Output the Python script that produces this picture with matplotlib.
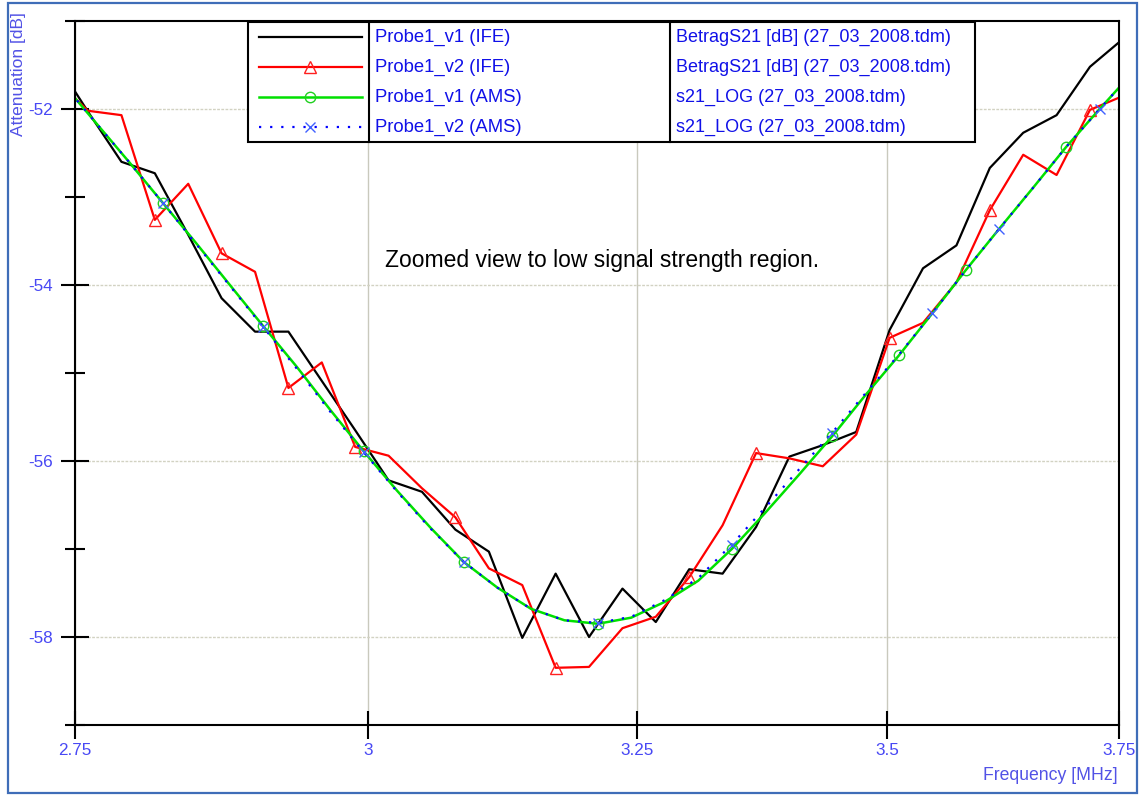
import matplotlib
matplotlib.use("Agg")
import matplotlib.pyplot as plt
from matplotlib.lines import Line2D
from matplotlib.patches import Rectangle
from matplotlib.ticker import FixedLocator, NullLocator, FixedFormatter
from matplotlib.transforms import Affine2D

plt.rcParams['font.family'] = ['Liberation Sans', 'DejaVu Sans']
plt.rcParams['axes.unicode_minus'] = False

# measured sweep (IFE), frequency in MHz, attenuation in dB
f_ife = [2.7334, 2.7606, 2.7882, 2.8160, 2.8441, 2.8724, 2.9011, 2.9300, 2.9592,
         2.9887, 3.0185, 3.0486, 3.0790, 3.1098, 3.1408, 3.1721, 3.2037, 3.2357,
         3.2679, 3.3005, 3.3334, 3.3667, 3.4002, 3.4341, 3.4684, 3.5030, 3.5379,
         3.5732, 3.6088, 3.6448, 3.6811, 3.7178, 3.7549]
probe1_v1_ife = [-51.44, -52.03, -52.60, -52.73, -53.43, -54.15, -54.53, -54.53, -55.09,
                 -55.65, -56.22, -56.35, -56.78, -57.03, -58.01, -57.28, -58.00, -57.45,
                 -57.83, -57.23, -57.28, -56.75, -55.95, -55.82, -55.67, -54.51, -53.81,
                 -53.55, -52.67, -52.27, -52.07, -51.52, -51.20]
probe1_v2_ife = [-51.65, -52.02, -52.07, -53.26, -52.85, -53.64, -53.85, -55.17, -54.88,
                 -55.84, -55.94, -56.31, -56.64, -57.22, -57.41, -58.35, -58.34, -57.90,
                 -57.77, -57.32, -56.73, -55.91, -55.97, -56.06, -55.70, -54.60, -54.43,
                 -53.97, -53.15, -52.52, -52.75, -52.01, -51.85]

# simulated sweep (AMS)
f_ams = [2.7399, 2.7673, 2.7950, 2.8229, 2.8511, 2.8795, 2.9083, 2.9373, 2.9667,
         2.9963, 3.0263, 3.0565, 3.0869, 3.1178, 3.1490, 3.1804, 3.2122, 3.2442,
         3.2767, 3.3094, 3.3425, 3.3758, 3.4096, 3.4436, 3.4780, 3.5127, 3.5478,
         3.5832, 3.6190, 3.6551, 3.6917, 3.7285, 3.7658]
probe1_v1_ams = [-51.71, -52.16, -52.61, -53.07, -53.53, -54.00, -54.47, -54.93, -55.42,
                 -55.89, -56.34, -56.76, -57.15, -57.44, -57.68, -57.81, -57.85, -57.78,
                 -57.60, -57.36, -57.00, -56.59, -56.16, -55.72, -55.25, -54.80, -54.32,
                 -53.83, -53.36, -52.90, -52.43, -52.00, -51.58]
probe1_v2_ams = [-51.71, -52.16, -52.61, -53.07, -53.54, -54.01, -54.48, -54.95, -55.44,
                 -55.90, -56.35, -56.77, -57.15, -57.44, -57.68, -57.81, -57.84, -57.77,
                 -57.58, -57.33, -56.95, -56.53, -56.10, -55.68, -55.23, -54.79, -54.32,
                 -53.83, -53.36, -52.90, -52.43, -52.00, -51.58]

tri_marks = [3, 5, 7, 9, 12, 15, 19, 21, 25, 28, 31]
circ_marks = [3, 6, 9, 12, 16, 20, 23, 25, 27, 30]
x_marks = [3, 6, 9, 12, 16, 20, 23, 26, 28, 31]

x_ticks = [2.75, 3.0, 3.25, 3.5, 3.75]
x_labels = ['2.75', '3', '3.25', '3.5', '3.75']
y_major = [-58, -56, -54, -52]
y_minor = [-59, -57, -55, -53, -51]

series_names = ['Probe1_v1 (IFE)', 'Probe1_v2 (IFE)', 'Probe1_v1 (AMS)', 'Probe1_v2 (AMS)']
series_files = ['BetragS21 [dB] (27_03_2008.tdm)', 'BetragS21 [dB] (27_03_2008.tdm)',
                's21_LOG (27_03_2008.tdm)', 's21_LOG (27_03_2008.tdm)']

W, H = 1142, 796
fig = plt.figure(figsize=(W / 100, H / 100), dpi=100)
fig.patch.set_facecolor('white')
# pixel coordinates measured from the top-left corner
tpx = Affine2D().scale(1.0 / W, -1.0 / H).translate(0, 1) + fig.transFigure

ax = fig.add_axes([75 / W, 1 - 725 / H, (1119 - 75) / W, (725 - 21) / H])
ax.set_xscale('log')
ax.set_xlim(2.75, 3.75)
ax.set_ylim(-59, -51)

tick_blue = '#4848f4'
ax.xaxis.set_major_locator(FixedLocator(x_ticks))
ax.xaxis.set_major_formatter(FixedFormatter(x_labels))
ax.xaxis.set_minor_locator(NullLocator())
ax.yaxis.set_major_locator(FixedLocator(y_major))
ax.yaxis.set_minor_locator(FixedLocator(y_minor))
ax.tick_params(axis='both', which='major', direction='inout', length=19.5, width=1.5,
               labelsize=12.3, labelcolor=tick_blue)
ax.tick_params(axis='y', which='major', pad=6)
ax.tick_params(axis='x', which='major', pad=3.5)
ax.tick_params(axis='y', which='minor', direction='inout', length=14, width=1.5)
for s in ax.spines.values():
    s.set_linewidth(1.5)
    s.set_color('black')

ax.grid(axis='x', which='major', color='#c9c9bd', lw=1.0, linestyle='-')
ax.grid(axis='y', which='major', color='#d2d2c2', lw=1.0, linestyle=(0, (2, 1)))
ax.set_axisbelow(True)

dots = (0, (1, 4))
l1, = ax.plot(f_ife, probe1_v1_ife, color='black', lw=1.6)
l2, = ax.plot(f_ife, probe1_v2_ife, color='#ff0000', lw=1.6, marker='^', ms=8.5,
              mfc='none', mec='#ff2020', mew=1.0, markevery=tri_marks)
l3, = ax.plot(f_ams, probe1_v1_ams, color='#00e000', lw=1.8, marker='o', ms=7.5,
              mfc='none', mec='#20d020', mew=1.0, markevery=circ_marks)
l4, = ax.plot(f_ams, probe1_v2_ams, color='#0000ff', lw=1.6, linestyle=dots,
              marker='x', ms=7.5, mec='#4060ff', mew=1.0, markevery=x_marks)

# legend table across the top of the plot
leg_left, leg_right, leg_top, leg_bot = 248, 975, 22, 142
fig.add_artist(Rectangle((leg_left, leg_top), leg_right - leg_left, leg_bot - leg_top,
                         transform=tpx, facecolor='white', edgecolor='black', lw=1.5, zorder=5))
for xd in (369, 670):
    fig.add_artist(Line2D([xd, xd], [leg_top, leg_bot], transform=tpx, color='black',
                          lw=1.5, zorder=6))
styles = ['-', '-', '-', dots]
for i, (line, ls, name, src) in enumerate(zip([l1, l2, l3, l4], styles, series_names, series_files)):
    yr = 37 + 30 * i
    fig.add_artist(Line2D([259, 310, 362], [yr, yr, yr], transform=tpx,
                          color=line.get_color(), lw=line.get_linewidth(),
                          linestyle=ls, marker=line.get_marker(),
                          ms=line.get_markersize(), mfc=line.get_markerfacecolor(),
                          mec=line.get_markeredgecolor(), mew=line.get_markeredgewidth(),
                          markevery=[1], zorder=6))
    fig.text(375 / W, 1 - yr / H, name, ha='left', va='center', fontsize=13.3,
             color='#1010e8', zorder=7)
    fig.text(676 / W, 1 - yr / H, src, ha='left', va='center', fontsize=13,
             color='#1010e8', zorder=7)

fig.text(385 / W, 1 - 261 / H, 'Zoomed view to low signal strength region.',
         ha='left', va='center', fontsize=16.5, color='black')

axis_blue = '#5252e6'
fig.text(19 / W, 1 - 12 / H, 'Attenuation [dB]', rotation=90, ha='center', va='top',
         fontsize=12.5, color=axis_blue)
fig.text(1118 / W, 1 - 775 / H, 'Frequency [MHz]', ha='right', va='center',
         fontsize=12.7, color=axis_blue)

# frame around the whole picture
fig.add_artist(Rectangle((8, 3), 1129, 790, transform=tpx, facecolor='none',
                         edgecolor='#3f6db8', lw=1.6, zorder=10))

fig.savefig('out.png', dpi=100)
